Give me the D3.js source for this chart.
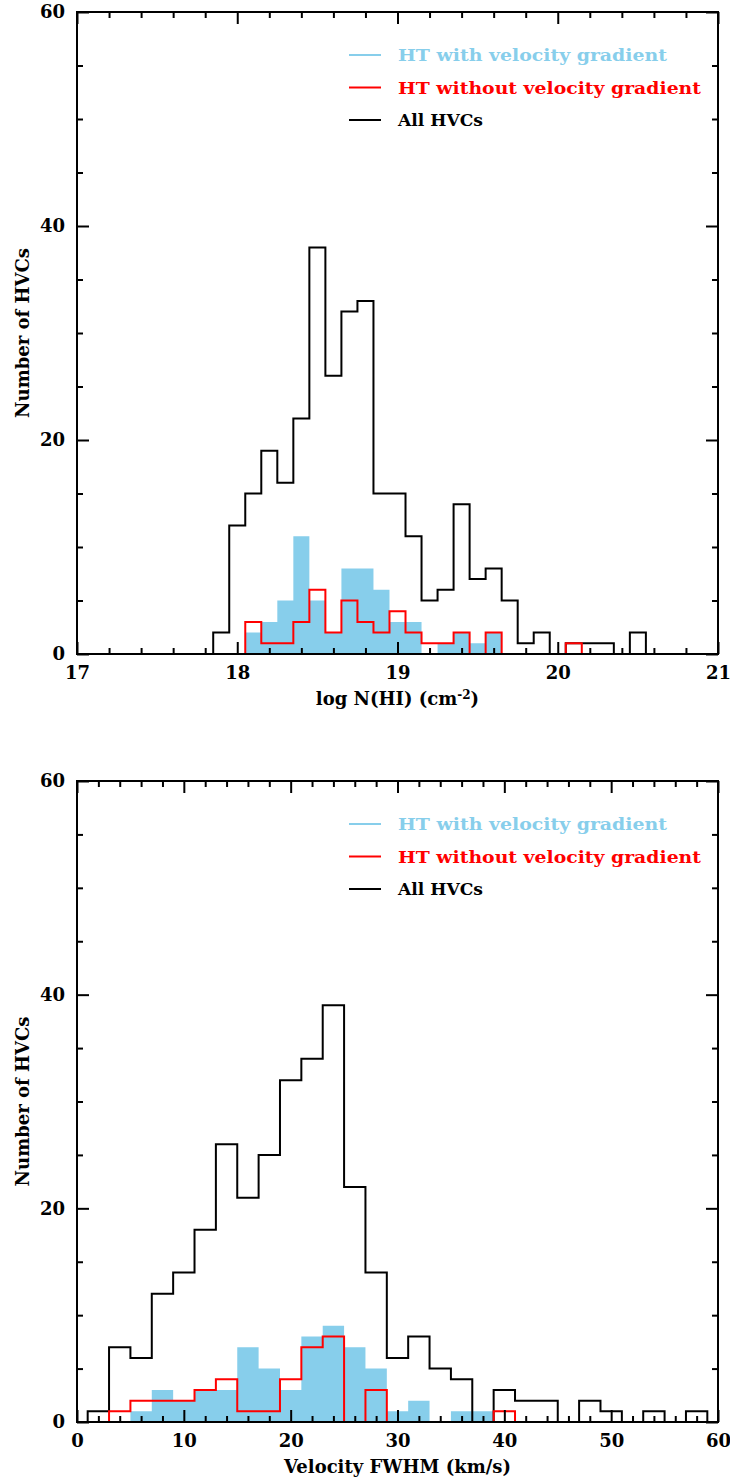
<!DOCTYPE html>
<html>
<head>
<meta charset="utf-8">
<script src="https://cdn.jsdelivr.net/npm/d3@7"></script>
<style>
  html, body { margin: 0; padding: 0; background: #fff; }
  svg { display: block; }
  text { font-family: "DejaVu Serif", "Liberation Serif", serif; font-weight: bold; }
</style>
</head>
<body>
<svg id="fig" width="730" height="1484"></svg>
<script>
// ---- column density histogram (bin width 0.1 dex) ----
const nhiCenters = [17.9, 18.0, 18.1, 18.2, 18.3, 18.4, 18.5, 18.6, 18.7, 18.8,
                    18.9, 19.0, 19.1, 19.2, 19.3, 19.4, 19.5, 19.6, 19.7, 19.8,
                    19.9, 20.0, 20.1, 20.2, 20.3, 20.4, 20.5];
const nhiAll      = [2, 12, 15, 19, 16, 22, 38, 26, 32, 33,
                     15, 15, 11, 5, 6, 14, 7, 8, 5, 1,
                     2, 0, 1, 1, 1, 0, 2];
const nhiGradient = [0, 0, 2, 3, 5, 11, 5, 2, 8, 8,
                     6, 3, 3, 0, 1, 2, 1, 2, 0, 0,
                     0, 0, 0, 0, 0, 0, 0];
const nhiNoGrad   = [0, 0, 3, 1, 1, 3, 6, 2, 5, 3,
                     2, 4, 2, 1, 1, 2, 0, 2, 0, 0,
                     0, 0, 1, 0, 0, 0, 0];
const nhiBinWidth = 0.1;
const nhiMajorTicks = [17, 18, 19, 20, 21];

// ---- velocity width histogram (bin width 2 km/s) ----
const fwhmCenters = [2, 4, 6, 8, 10, 12, 14, 16, 18, 20,
                     22, 24, 26, 28, 30, 32, 34, 36, 38, 40,
                     42, 44, 46, 48, 50, 52, 54, 56, 58];
const fwhmAll      = [1, 7, 6, 12, 14, 18, 26, 21, 25, 32,
                      34, 39, 22, 14, 6, 8, 5, 4, 0, 3,
                      2, 2, 0, 2, 1, 0, 1, 0, 1];
const fwhmGradient = [0, 0, 1, 3, 2, 3, 3, 7, 5, 3,
                      8, 9, 7, 5, 1, 2, 0, 1, 1, 0,
                      0, 0, 0, 0, 0, 0, 0, 0, 0];
const fwhmNoGrad   = [0, 1, 2, 2, 2, 3, 4, 1, 1, 4,
                      7, 8, 0, 3, 0, 0, 0, 0, 0, 1,
                      0, 0, 0, 0, 0, 0, 0, 0, 0];
const fwhmBinWidth = 2;
const fwhmMajorTicks = [0, 10, 20, 30, 40, 50, 60];

const countTicks = [0, 20, 40, 60];
const legendLabels = ["HT with velocity gradient", "HT without velocity gradient", "All HVCs"];

const COLOR_GRAD = "#87ceeb";
const COLOR_NOGRAD = "#ff0000";
const COLOR_ALL = "#000000";
const FONT_SIZE = "18px";

const svg = d3.select("#fig");

const panels = [
  {
    top: 12, bottom: 654, left: 77, right: 718,
    xDomain: [17, 21], xMajor: nhiMajorTicks, xMinorStep: 0.2,
    centers: nhiCenters, width: nhiBinWidth,
    all: nhiAll, grad: nhiGradient, nograd: nhiNoGrad,
    xLabel: "nhi"
  },
  {
    top: 781, bottom: 1422, left: 77, right: 718,
    xDomain: [0, 60], xMajor: fwhmMajorTicks, xMinorStep: 2,
    centers: fwhmCenters, width: fwhmBinWidth,
    all: fwhmAll, grad: fwhmGradient, nograd: fwhmNoGrad,
    xLabel: "fwhm"
  }
];

function stepPoints(centers, values, w) {
  const pts = [[centers[0] - w / 2, 0]];
  centers.forEach((c, i) => {
    pts.push([c - w / 2, values[i]]);
    pts.push([c + w / 2, values[i]]);
  });
  pts.push([centers[centers.length - 1] + w / 2, 0]);
  return pts;
}

function rangeStep(a, b, s) {
  const out = [];
  const n = Math.round((b - a) / s);
  for (let i = 0; i <= n; i++) out.push(+(a + i * s).toFixed(6));
  return out;
}

panels.forEach(p => {
  const x = d3.scaleLinear().domain(p.xDomain).range([p.left, p.right]);
  const y = d3.scaleLinear().domain([0, 60]).range([p.bottom, p.top]);
  const g = svg.append("g");

  const pts = (vals) => stepPoints(p.centers, vals, p.width);

  // filled histogram: HT with velocity gradient
  const area = d3.area().x(d => x(d[0])).y0(y(0)).y1(d => y(d[1]));
  g.append("path")
    .attr("d", area(pts(p.grad)))
    .attr("fill", COLOR_GRAD)
    .attr("stroke", "none");

  const line = d3.line().x(d => x(d[0])).y(d => y(d[1]));
  // outline: all HVCs
  g.append("path")
    .attr("d", line(pts(p.all)))
    .attr("fill", "none")
    .attr("stroke", COLOR_ALL)
    .attr("stroke-width", 2)
    .attr("stroke-linejoin", "miter");
  // outline: HT without velocity gradient
  g.append("path")
    .attr("d", line(pts(p.nograd)))
    .attr("fill", "none")
    .attr("stroke", COLOR_NOGRAD)
    .attr("stroke-width", 2)
    .attr("stroke-linejoin", "miter");

  // ticks on all four sides, pointing inward
  const xMinor = rangeStep(p.xDomain[0], p.xDomain[1], p.xMinorStep)
    .filter(v => !p.xMajor.some(m => Math.abs(m - v) < 1e-6));
  const yMinor = rangeStep(0, 60, 5).filter(v => v % 20 !== 0);

  const styleAxis = sel => {
    sel.select(".domain").remove();
    sel.selectAll("line").attr("stroke", "#000").attr("stroke-width", 2);
    sel.selectAll("text")
      .attr("fill", "#000")
      .style("font-family", '"DejaVu Serif", serif')
      .style("font-weight", "bold")
      .style("font-size", FONT_SIZE);
  };

  // bottom
  g.append("g").attr("transform", `translate(0,${p.bottom})`)
    .call(d3.axisBottom(x).tickValues(p.xMajor).tickSize(-12).tickSizeOuter(0).tickPadding(12)
      .tickFormat(d3.format("d")))
    .call(styleAxis);
  g.append("g").attr("transform", `translate(0,${p.bottom})`)
    .call(d3.axisBottom(x).tickValues(xMinor).tickSize(-6).tickSizeOuter(0).tickFormat(""))
    .call(styleAxis);
  // top
  g.append("g").attr("transform", `translate(0,${p.top})`)
    .call(d3.axisTop(x).tickValues(p.xMajor).tickSize(-12).tickSizeOuter(0).tickFormat(""))
    .call(styleAxis);
  g.append("g").attr("transform", `translate(0,${p.top})`)
    .call(d3.axisTop(x).tickValues(xMinor).tickSize(-6).tickSizeOuter(0).tickFormat(""))
    .call(styleAxis);
  // left
  g.append("g").attr("transform", `translate(${p.left},0)`)
    .call(d3.axisLeft(y).tickValues(countTicks).tickSize(-12).tickSizeOuter(0).tickPadding(12)
      .tickFormat(d3.format("d")))
    .call(styleAxis);
  g.append("g").attr("transform", `translate(${p.left},0)`)
    .call(d3.axisLeft(y).tickValues(yMinor).tickSize(-6).tickSizeOuter(0).tickFormat(""))
    .call(styleAxis);
  // right
  g.append("g").attr("transform", `translate(${p.right},0)`)
    .call(d3.axisRight(y).tickValues(countTicks).tickSize(-12).tickSizeOuter(0).tickFormat(""))
    .call(styleAxis);
  g.append("g").attr("transform", `translate(${p.right},0)`)
    .call(d3.axisRight(y).tickValues(yMinor).tickSize(-6).tickSizeOuter(0).tickFormat(""))
    .call(styleAxis);

  // frame
  g.append("rect")
    .attr("x", p.left).attr("y", p.top)
    .attr("width", p.right - p.left).attr("height", p.bottom - p.top)
    .attr("fill", "none").attr("stroke", "#000").attr("stroke-width", 2);

  // axis titles
  g.append("text")
    .attr("transform", `translate(22,${(p.top + p.bottom) / 2}) rotate(-90)`)
    .attr("text-anchor", "middle")
    .attr("dominant-baseline", "central")
    .style("font-size", FONT_SIZE)
    .text("Number of HVCs");

  const xt = g.append("text")
    .attr("x", (p.left + p.right) / 2)
    .attr("y", p.bottom + 51)
    .attr("text-anchor", "middle")
    .style("font-size", FONT_SIZE);
  if (p.xLabel === "nhi") {
    xt.append("tspan").text("log N(HI) (cm");
    xt.append("tspan").text("-2").style("font-size", "12px").attr("baseline-shift", "6");
    xt.append("tspan").text(")");
  } else {
    xt.text("Velocity FWHM (km/s)");
  }

  // legend
  const legColors = [COLOR_GRAD, COLOR_NOGRAD, COLOR_ALL];
  const legWidths = [269, 303, 85];
  legendLabels.forEach((lab, i) => {
    const ly = p.top + 43 + i * 32.5;
    g.append("line")
      .attr("x1", 349).attr("x2", 381)
      .attr("y1", ly).attr("y2", ly)
      .attr("stroke", legColors[i]).attr("stroke-width", 2);
    g.append("text")
      .attr("x", 398).attr("y", ly + 6)
      .attr("fill", legColors[i])
      .style("font-size", "17px")
      .attr("textLength", legWidths[i])
      .attr("lengthAdjust", "spacingAndGlyphs")
      .text(lab);
  });
});
</script>
</body>
</html>
